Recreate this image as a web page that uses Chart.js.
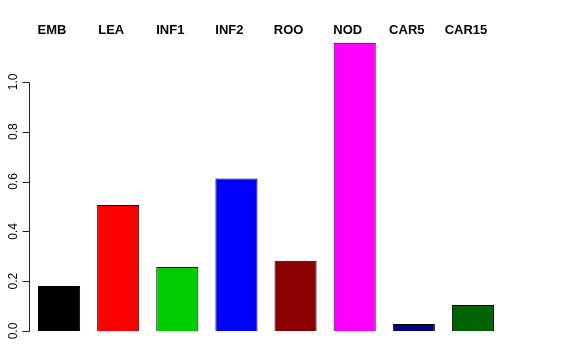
<!DOCTYPE html>
<html>
<head>
<meta charset="utf-8">
<script src="https://cdn.jsdelivr.net/npm/chart.js@4"></script>
<style>
  html, body { margin: 0; padding: 0; background: #fff; }
  canvas { display: block; }
</style>
</head>
<body>
<canvas id="bars" width="576" height="360"></canvas>
<script>
// values
const categories = ['EMB', 'LEA', 'INF1', 'INF2', 'ROO', 'NOD', 'CAR5', 'CAR15'];
const values = [0.181, 0.506, 0.257, 0.612, 0.282, 1.157, 0.028, 0.104];
const barColors = ['#000000', '#FF0000', '#00CD00', '#0000FF', '#8B0000', '#FF00FF', '#000080', '#006400'];
const yTicks = [0, 0.2, 0.4, 0.6, 0.8, 1.0];

// R style axis on the left + labels on top, drawn from the scales
const rAxis = {
  id: 'rAxis',
  afterDraw(chart) {
    const ctx = chart.ctx;
    const ys = chart.scales.y;
    const xs = chart.scales.x;
    const axX = 29.5;
    ctx.save();
    ctx.strokeStyle = '#222';
    ctx.lineWidth = 1;
    ctx.beginPath();
    ctx.moveTo(axX, Math.round(ys.getPixelForValue(yTicks[0])) + 0.5);
    ctx.lineTo(axX, Math.round(ys.getPixelForValue(yTicks[yTicks.length - 1])) + 0.5);
    yTicks.forEach(function(t) {
      const py = Math.round(ys.getPixelForValue(t)) + 0.5;
      ctx.moveTo(axX, py);
      ctx.lineTo(axX - 7, py);
    });
    ctx.stroke();

    ctx.fillStyle = '#000';
    ctx.font = '12px "Liberation Sans", Arial, sans-serif';
    ctx.textAlign = 'center';
    ctx.textBaseline = 'alphabetic';
    yTicks.forEach(function(t) {
      const py = ys.getPixelForValue(t);
      ctx.save();
      ctx.translate(17, py);
      ctx.rotate(-Math.PI / 2);
      ctx.fillText(t.toFixed(1), 0, 0);
      ctx.restore();
    });

    ctx.font = 'bold 13px "Liberation Sans", Arial, sans-serif';
    categories.forEach(function(c, i) {
      ctx.fillText(c, xs.getPixelForValue(i) - 7, 34);
    });
    ctx.restore();
  }
};

new Chart(document.getElementById('bars'), {
  type: 'bar',
  data: {
    labels: categories,
    datasets: [{
      data: values,
      backgroundColor: barColors,
      borderColor: '#000',
      borderWidth: 1,
      barPercentage: 0.712,
      categoryPercentage: 1.0
    }]
  },
  options: {
    responsive: false,
    animation: false,
    devicePixelRatio: 1,
    layout: { padding: { left: 29.5, right: 73.5, top: 32, bottom: 29 } },
    plugins: { legend: { display: false }, tooltip: { enabled: false } },
    scales: {
      x: { display: false },
      y: { display: false, min: 0, max: 1.2 }
    }
  },
  plugins: [rAxis]
});
</script>
</body>
</html>
